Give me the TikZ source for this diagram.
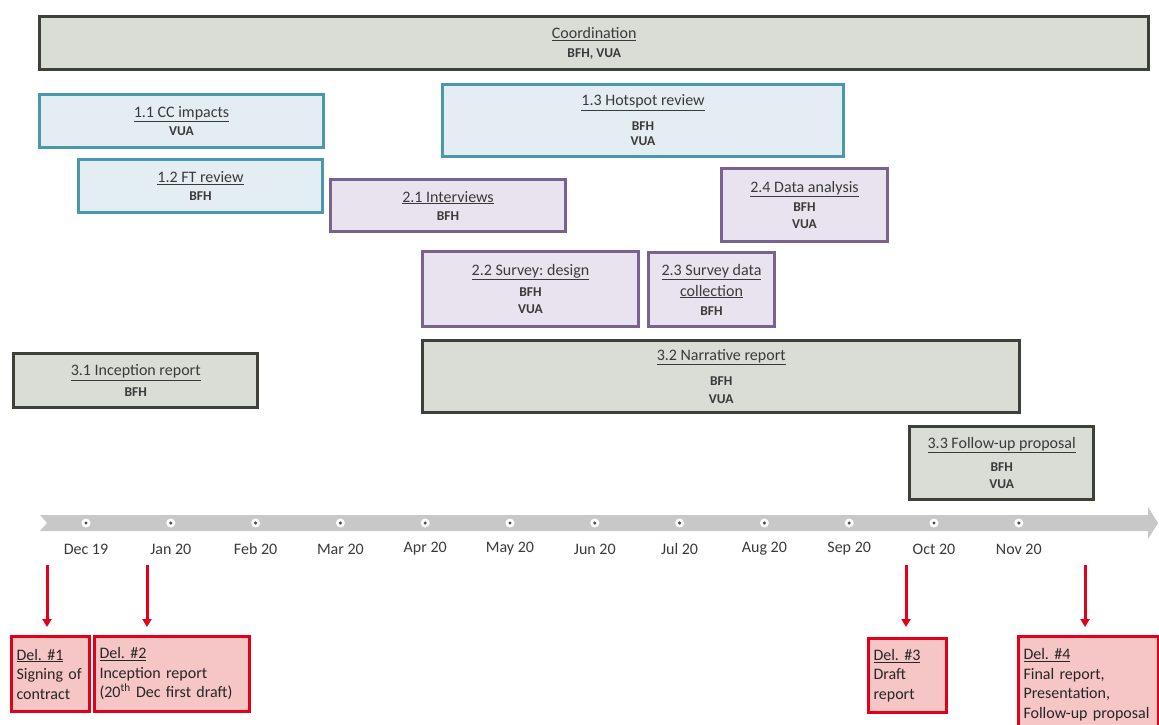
\documentclass[tikz,border=0pt]{standalone}
\usepackage{fontspec}
\setmainfont{Carlito}
\usetikzlibrary{arrows.meta}
\definecolor{coordfill}{HTML}{D9DDD6}
\definecolor{coordborder}{HTML}{3D4139}
\definecolor{tealfill}{HTML}{E4EDF2}
\definecolor{tealborder}{HTML}{4A98AD}
\definecolor{purpfill}{HTML}{E9E3EF}
\definecolor{purpborder}{HTML}{7A6290}
\definecolor{redfill}{HTML}{F6C5C5}
\definecolor{redborder}{HTML}{E3001B}
\definecolor{bandgray}{HTML}{C8C8C8}
\definecolor{txt}{HTML}{3A3A3A}
\frenchspacing
\newcommand\tasktitle[1]{{\fontsize{16}{17}\selectfont\mdseries\underline{#1}}}
\begin{document}
\begin{tikzpicture}[x=1pt,y=-1pt,
  task/.style={inner sep=0pt, anchor=north west, align=center, text=txt,
    font=\fontsize{13.5}{17}\selectfont\bfseries},
  cbox/.style={task, draw=coordborder, fill=coordfill, line width=3.4pt},
  tbox/.style={task, draw=tealborder, fill=tealfill, line width=3pt},
  pbox/.style={task, draw=purpborder, fill=purpfill, line width=3pt},
  rbox/.style={draw=redborder, fill=redfill, line width=3pt, inner sep=0pt,
    anchor=north west, align=left, text=black!85,
    font=\fontsize{16}{19.5}\selectfont},
  dotc/.style={circle, fill=white, minimum size=9pt, inner sep=0pt},
  month/.style={font=\fontsize{16}{18}\selectfont, text=txt, inner sep=0pt},
  redarrow/.style={draw=redborder, line width=3pt, -{Triangle[length=8pt,width=9pt]}}]
\useasboundingbox (0,0) rectangle (1159,724);
\fill[white] (0,0) rectangle (1159,724);

% work packages
\node[cbox, minimum width=1109pt, minimum height=53pt] (coord) at (38,15)
  {\tasktitle{Coordination}\\[2pt]BFH, VUA};
\node[tbox, minimum width=284pt, minimum height=53pt] (t11) at (38,93)
  {\tasktitle{1.1 CC impacts}\\[1pt]VUA};
\node[tbox, minimum width=244pt, minimum height=53pt] (t12) at (77,158)
  {\tasktitle{1.2 FT review}\\[1pt]BFH};
\node[tbox, minimum width=401pt, minimum height=72pt] (t13) at (441,83)
  {\tasktitle{1.3 Hotspot review}\\[8pt]BFH\\[-2pt]VUA};
\node[pbox, minimum width=235pt, minimum height=52pt] (p21) at (329,178)
  {\tasktitle{2.1 Interviews}\\[1pt]BFH};
\node[pbox, minimum width=166pt, minimum height=73pt] (p24) at (720,167)
  {\tasktitle{2.4 Data analysis}\\[2pt]BFH\\VUA};
\node[pbox, minimum width=216pt, minimum height=75pt] (p22) at (421,250)
  {\tasktitle{2.2 Survey: design}\\[4pt]BFH\\VUA};
\node[pbox, minimum width=126pt, minimum height=74pt] (p23) at (647,251)
  {\tasktitle{2.3 Survey data}\\[4pt]\tasktitle{collection}\\[2pt]BFH};
\node[cbox, minimum width=244pt, minimum height=54pt] (c31) at (12,352)
  {\tasktitle{3.1 Inception report}\\[4pt]BFH};
\node[cbox, minimum width=597pt, minimum height=72pt] (c32) at (421,339)
  {\tasktitle{3.2 Narrative report}\\[8pt]BFH\\[1pt]VUA};
\node[cbox, minimum width=184pt, minimum height=73pt] (c33) at (908,425)
  {\tasktitle{3.3 Follow-up proposal}\\[6pt]BFH\\VUA};

% timeline band
\fill[bandgray] (40,515) -- (1148,515) -- (1148,507) -- (1158,523) -- (1148,539)
  -- (1148,531) -- (40,531) -- (47,523) -- cycle;
\foreach \i/\m in {0/Dec 19,1/Jan 20,2/Feb 20,3/Mar 20,4/Apr 20,5/May 20,
                   6/Jun 20,7/Jul 20,8/Aug 20,9/Sep 20,10/Oct 20,11/Nov 20}{
  \node[dotc] (dot\i) at ({86+84.8*\i},523) {};
  \fill[black!70] (dot\i.center) circle (1.7pt);
  \node[month] (mon\i) at ({86+84.8*\i},549) {\m};
}

% deliverables
\node[rbox, minimum width=78pt, minimum height=75pt, text width=68pt] (d1) at (10,635)
  {\underline{Del. \#1}\\Signing of\\contract};
\node[rbox, minimum width=155pt, minimum height=75pt, text width=145pt] (d2) at (93,635)
  {\underline{Del. \#2}\\Inception report\\(20\textsuperscript{th} Dec first draft)};
\node[rbox, minimum width=78pt, minimum height=74pt, text width=68pt] (d3) at (867,637)
  {\underline{Del. \#3}\\Draft\\report};
\node[rbox, minimum width=140pt, minimum height=96pt, text width=130pt] (d4) at (1017,635)
  {\underline{Del. \#4}\\Final report,\\Presentation,\\Follow-up proposal};

\coordinate (a1) at (47,565);
\coordinate (a2) at (147,565);
\coordinate (a3) at (906,565);
\coordinate (a4) at (1085,565);
\draw[redarrow, shorten >=8pt] (a1) -- (a1 |- d1.north);
\draw[redarrow, shorten >=8pt] (a2) -- (a2 |- d2.north);
\draw[redarrow, shorten >=10pt] (a3) -- (a3 |- d3.north);
\draw[redarrow, shorten >=8pt] (a4) -- (a4 |- d4.north);
\end{tikzpicture}
\end{document}
